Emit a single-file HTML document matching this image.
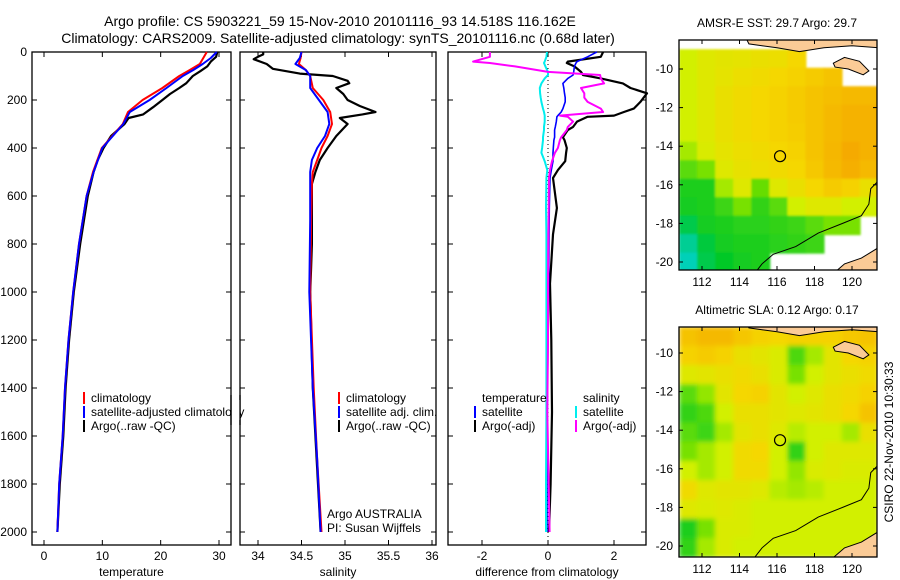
<!DOCTYPE html>
<html><head><meta charset="utf-8"><style>
html,body{margin:0;padding:0;background:#fff;}
svg{display:block;font-family:"Liberation Sans",sans-serif;}
</style></head><body>
<svg id="chart" width="900" height="580" viewBox="0 0 900 580">
<defs>
<clipPath id="clipTop"><rect x="679" y="40" width="198" height="230"/></clipPath>
<clipPath id="clipBot"><rect x="679" y="327" width="198" height="230"/></clipPath>
<filter id="blur" x="-5%" y="-5%" width="110%" height="110%"><feGaussianBlur stdDeviation="2.5"/></filter>
<filter id="blur2" x="-5%" y="-5%" width="110%" height="110%"><feGaussianBlur stdDeviation="1"/></filter>
</defs>
<text x="340" y="26" font-size="14" text-anchor="middle">Argo profile: CS 5903221_59 15-Nov-2010 20101116_93 14.518S 116.162E</text>
<text x="338" y="43" font-size="14" text-anchor="middle">Climatology: CARS2009. Satellite-adjusted climatology: synTS_20101116.nc (0.68d later)</text>
<g id="g"></g>
</svg>
<script>
// ---------------- data ----------------
const tDepth = [0,25,50,75,100,150,200,250,300,400,500,600,800,1000,1200,1400,1600,1800,2000];
const tClim  = [27.9,27.3,26.7,25.0,23.2,20.3,16.9,14.4,13.5,9.9,8.4,7.3,6.0,5.0,4.2,3.6,3.2,2.6,2.3];
const tSat   = [29.6,28.6,27.2,25.6,23.8,21.0,18.1,14.7,13.6,10.0,8.5,7.3,6.0,5.0,4.2,3.6,3.2,2.6,2.3];
const tArgoDepth = [0,20,40,60,80,100,130,150,175,200,230,260,275,300,350,400,450,500,600,800,1000,1200,1400,1600,1800,2000];
const tArgo = [29.7,29.5,28.6,28.0,26.8,25.5,24.4,23.2,21.6,20.3,18.7,17.0,14.5,13.8,11.5,10.2,9.2,8.5,7.5,6.2,5.1,4.3,3.7,3.3,2.7,2.3];

const sDepth = [0,25,50,75,100,150,200,250,300,350,400,450,500,550,700,1000,1400,1700,2000];
const sClim  = [34.5,34.49,34.47,34.55,34.6,34.63,34.75,34.83,34.85,34.8,34.73,34.68,34.63,34.62,34.61,34.6,34.64,34.68,34.73];
const sSat   = [34.5,34.48,34.43,34.55,34.6,34.6,34.7,34.8,34.82,34.77,34.68,34.62,34.6,34.6,34.6,34.59,34.63,34.68,34.72];
const sArgoDepth = [0,10,20,30,50,70,90,100,120,130,150,175,200,225,250,260,275,300,350,400,450,500,550,600,800,900,1000,1400,2000];
const sArgo = [34.06,34.06,34.0,33.95,34.1,34.17,34.48,34.86,35.03,35.05,34.9,34.98,35.03,35.17,35.35,35.2,34.94,35.03,34.9,34.8,34.71,34.66,34.62,34.62,34.62,34.61,34.6,34.63,34.72];

const dDepth = [0,20,40,46,60,83,96,110,131,150,172,190,208,236,250,265,270,290,312,325,355,367,400,420,455,492,525,650,760,965,1200,1500,1800,2000];
const dTempSat  = [1.48,1.2,0.88,0.85,0.8,0.78,0.76,0.6,0.45,0.48,0.5,0.52,0.52,0.45,0.4,0.3,0.27,0.25,0.22,0.2,0.2,0.18,0.16,0.15,0.15,0.1,0.06,0.04,0.03,0.02,0.0,-0.02,-0.03,-0.03];
const dTempArgo = [1.67,1.6,0.6,0.57,0.8,1.0,1.06,1.6,2.27,2.5,3.0,2.9,2.8,2.6,2.3,2.0,1.2,0.88,0.76,0.6,0.45,0.5,0.57,0.55,0.52,0.3,0.15,0.27,0.15,0.06,0.1,0.12,0.08,0.03];
const dSalSat   = [-0.03,-0.05,-0.1,-0.12,-0.08,0.0,0.0,-0.1,-0.2,-0.25,-0.24,-0.22,-0.2,-0.15,-0.12,-0.1,-0.1,-0.1,-0.12,-0.12,-0.15,-0.15,-0.18,-0.2,-0.1,-0.02,-0.05,-0.06,-0.05,-0.05,-0.05,-0.05,-0.06,-0.06];
const dSalArgo  = [-1.76,-1.76,-2.27,-1.76,-1.0,0.0,1.58,1.6,1.7,1.0,1.1,1.1,1.2,1.6,1.67,0.36,0.6,0.76,0.6,0.57,0.4,0.36,0.3,0.21,0.12,0.06,0.03,0.02,0.01,0.0,0.0,-0.02,0.02,0.05];

const tempTicks = [0,10,20,30];
const salTicks = [34,34.5,35,35.5,36];
const diffTicks = [-2,0,2];
const depthTicks = [0,200,400,600,800,1000,1200,1400,1600,1800,2000];
const latTicks = [-10,-12,-14,-16,-18,-20];
const lonTicks = [112,114,116,118,120];

const sstGrid = [
 [0.55,0.6,0.62,0.63,0.65,0.66,0.7,null,null,null,null],
 [0.55,0.6,0.63,0.66,0.68,0.7,0.72,0.75,0.78,null,null],
 [0.55,0.6,0.65,0.68,0.7,0.72,0.75,0.78,0.8,0.82,0.82],
 [0.55,0.6,0.65,0.68,0.7,0.72,0.75,0.78,0.82,0.85,0.85],
 [0.55,0.6,0.65,0.68,0.7,0.72,0.74,0.78,0.82,0.85,0.85],
 [0.5,0.58,0.63,0.66,0.68,0.7,0.72,0.78,0.83,0.88,0.85],
 [0.4,0.45,0.6,0.64,0.66,0.68,0.7,0.76,0.82,0.86,0.82],
 [0.3,0.3,0.5,0.6,0.42,0.6,0.65,0.7,0.75,0.72,0.65],
 [0.28,0.3,0.35,0.45,0.33,0.4,0.55,0.6,0.6,0.55,0.55],
 [0.2,0.28,0.3,0.32,0.32,0.33,0.35,0.4,0.45,0.45,null],
 [0.1,0.22,0.28,0.3,0.3,0.32,0.33,0.35,null,null,null],
 [0.05,0.2,0.25,0.28,0.3,null,null,null,null,null,null]];
const slaGrid = [
 [0.78,0.82,0.82,0.77,0.72,0.7,0.72,0.72,0.72,0.76,0.78],
 [0.72,0.75,0.72,0.65,0.62,0.58,0.38,0.5,0.62,0.7,0.72],
 [0.6,0.62,0.65,0.68,0.65,0.58,0.45,0.55,0.62,0.65,0.68],
 [0.4,0.48,0.62,0.7,0.72,0.62,0.55,0.6,0.65,0.68,0.72],
 [0.33,0.38,0.55,0.65,0.65,0.62,0.6,0.62,0.65,0.7,0.78],
 [0.4,0.35,0.5,0.62,0.65,0.6,0.52,0.55,0.55,0.5,0.65],
 [0.45,0.5,0.55,0.68,0.7,0.55,0.33,0.55,0.6,0.6,0.6],
 [0.55,0.5,0.55,0.68,0.68,0.55,0.48,0.58,0.6,0.58,0.58],
 [0.68,0.6,0.62,0.62,0.6,0.52,0.5,0.52,0.55,0.55,0.55],
 [0.6,0.58,0.6,0.58,0.55,0.55,0.55,0.55,0.55,0.55,0.55],
 [0.3,0.45,0.58,0.58,0.55,0.55,0.55,0.55,0.55,0.55,0.55],
 [0.33,0.5,0.58,0.55,0.55,0.55,0.55,0.55,0.55,0.55,0.55]];
const floatLon = 116.162, floatLat = -14.518;

// ---------------- helpers ----------------
const NS = "http://www.w3.org/2000/svg";
const G = document.getElementById('g');
function mk(tag, attrs, parent){ const e=document.createElementNS(NS,tag); for(const k in attrs) e.setAttribute(k,attrs[k]); (parent||G).appendChild(e); return e; }
function lin(d0,d1,r0,r1){ return v=> r0+(v-d0)*(r1-r0)/(d1-d0); }
const yDepth = lin(0,2000,52,532);
const panels = [
 {x0:32,x1:231,sx:lin(0,30,44,219),ticks:tempTicks,label:'temperature',name:'temperature'},
 {x0:240,x1:436,sx:lin(34,36,258,432),ticks:salTicks,label:'salinity',name:'salinity'},
 {x0:448,x1:646,sx:lin(0,2,548,614),ticks:diffTicks,label:'difference from climatology',name:'difference'}];
const TOP=52, BOT=545;
panels.forEach((p,i)=>{
  const r = mk('rect',{x:p.x0,y:TOP,width:p.x1-p.x0,height:BOT-TOP,fill:'none',stroke:'#000','stroke-width':1.3});
  
  
  p.ticks.forEach(t=>{
    const x=p.sx(t);
    mk('line',{x1:x,x2:x,y1:BOT,y2:BOT-5,stroke:'#000'});
    mk('line',{x1:x,x2:x,y1:TOP,y2:TOP+5,stroke:'#000'});
    const tx = mk('text',{x:x,y:560,'font-size':12,'text-anchor':'middle'}); tx.textContent=t;
    
    
  });
  depthTicks.forEach(d=>{
    const y=yDepth(d);
    mk('line',{x1:p.x0,x2:p.x0+5,y1:y,y2:y,stroke:'#000'});
    mk('line',{x1:p.x1,x2:p.x1-5,y1:y,y2:y,stroke:'#000'});
    if(i===0){ const tx=mk('text',{x:27,y:y+4,'font-size':12,'text-anchor':'end'}); tx.textContent=d;
      
       }
  });
  const lb = mk('text',{x:(i===2?547:(p.x0+p.x1)/2),y:576,'font-size':12,'text-anchor':'middle'}); lb.textContent=p.label;
  
  
});
function line(p, depths, vals, color, name, w){
  const d = depths.map((z,k)=>(k?'L':'M')+p.sx(vals[k]).toFixed(1)+','+yDepth(z).toFixed(1)).join('');
  const e = mk('path',{d:d,fill:'none',stroke:color,'stroke-width':w||2,'stroke-linejoin':'round'});
  
  
}
// zero line
mk('line',{x1:548,x2:548,y1:TOP,y2:BOT,stroke:'#000','stroke-dasharray':'1,3'});
line(panels[0],tArgoDepth,tArgo,'#000','temp-argo-line',2.2);
line(panels[0],tDepth,tClim,'#f00','temp-climatology-line');
line(panels[0],tDepth,tSat,'#00f','temp-satellite-line');
line(panels[1],sArgoDepth,sArgo,'#000','sal-argo-line',2.2);
line(panels[1],sDepth,sClim,'#f00','sal-climatology-line');
line(panels[1],sDepth,sSat,'#00f','sal-satellite-line');
line(panels[2],dDepth,dTempArgo,'#000','diff-temp-argo-line',2.2);
line(panels[2],dDepth,dTempSat,'#00f','diff-temp-satellite-line',1.6);
line(panels[2],dDepth,dSalSat,'#0ee','diff-sal-satellite-line');
line(panels[2],dDepth,dSalArgo,'#f0f','diff-sal-argo-line');

function legend(x,y,color,txt,name){
  if(color){ const b=mk('line',{x1:x,x2:x,y1:y-10,y2:y+2,stroke:color,'stroke-width':2});
      }
  const t=mk('text',{x:x+7,y:y,'font-size':12}); t.textContent=txt;
   
}
legend(84,402,'#f00','climatology','legend-temp-climatology');
legend(84,416,'#00f','satellite-adjusted climatology','legend-temp-satellite');
legend(84,430,'#000','Argo(..raw -QC)','legend-temp-argo');
legend(339,402,'#f00','climatology','legend-sal-climatology');
legend(339,416,'#00f','satellite adj. clim.','legend-sal-satellite');
legend(339,430,'#000','Argo(..raw -QC)','legend-sal-argo');
legend(475,402,null,'temperature','legend-temp-heading');
legend(475,416,'#00f','satellite','legend-diff-temp-satellite');
legend(475,430,'#000','Argo(-adj)','legend-diff-temp-argo');
legend(576,402,null,'salinity','legend-sal-heading');
legend(576,416,'#0ee','satellite','legend-diff-sal-satellite');
legend(576,430,'#f0f','Argo(-adj)','legend-diff-sal-argo');
// cover legend overflow past panel 1 edge
const cover=mk('rect',{x:232,y:400,width:7.5,height:20,fill:'#fff'});
mk('line',{x1:231,x2:231,y1:395,y2:425,stroke:'#000','stroke-width':1.3});
mk('line',{x1:240,x2:240,y1:395,y2:425,stroke:'#000','stroke-width':1.3});
let t1=mk('text',{x:327,y:518,'font-size':12}); t1.textContent='Argo AUSTRALIA';
 
let t2=mk('text',{x:327,y:532,'font-size':12}); t2.textContent='PI: Susan Wijffels';
 

// ---------------- maps ----------------
const stops=[[0,[0,210,220]],[0.25,[0,200,40]],[0.45,[120,225,0]],[0.55,[210,240,0]],[0.7,[245,215,0]],[0.9,[245,165,0]],[1,[240,140,0]]];
function cmap(v){ for(let k=1;k<stops.length;k++){ if(v<=stops[k][0]){ const a=stops[k-1],b=stops[k],f=(v-a[0])/(b[0]-a[0]); return 'rgb('+a[1].map((c,j)=>Math.round(c+(b[1][j]-c)*f)).join(',')+')'; } } return 'rgb(240,140,0)'; }
function drawMap(grid, top, bot, title, name, clip, blur){
  const L=679,R=877;
  const sx=lin(112,120,702,852);
  const sy=lin(-10,-20, top===40?69:353, top===40?262:546);
  const lonL=110.8, lonR=121.4, latT=top===40?-9.0:-8.65, latB=top===40?-20.5:-20.6;
  const nr=grid.length,nc=grid[0].length;
  const dl=(lonR-lonL)/nc, dt=(latB-latT)/nr;
  const cg=mk('g',{'clip-path':'url(#'+clip+')'});
  const hg=mk('g',{filter:'url(#'+blur+')'},cg);
  
  
  grid.forEach((row,r)=>row.forEach((v,c)=>{
    if(v===null) return;
    const x=sx(lonL+c*dl), y=sy(latT+r*dt);
    const cell=mk('rect',{x:x-0.5,y:y-0.5,width:sx(lonL+(c+1)*dl)-x+1,height:sy(latT+(r+1)*dt)-y+1,fill:cmap(v)},hg);
    
    
  }));
  const P=(pts)=>pts.map((q,k)=>(k?'L':'M')+sx(q[0]).toFixed(1)+','+sy(q[1]).toFixed(1)).join('')+'Z';
  // land: island near Sumba and Java/Nusa Tenggara strip, Australia
  const land=[
    [[119.0,-9.7],[119.6,-9.4],[120.4,-9.6],[120.9,-10.1],[120.6,-10.3],[119.8,-10.0],[119.1,-9.9]],
    [[114.4,-8.5],[121.5,-8.5],[121.5,-8.9],[120,-8.8],[118.5,-8.9],[117.2,-9.1],[116.0,-8.9],[115.2,-8.8],[114.5,-8.7]],
    [[121.5,-19.2],[120.5,-19.8],[119.6,-20.1],[119.0,-20.6],[121.5,-20.6]]];
  land.forEach(pl=>{ const e=mk('path',{d:P(pl),fill:'#fbcb96',stroke:'#000','stroke-width':1},cg);
      });
  const coast=[[114.8,-20.6],[115.2,-20.1],[115.8,-19.6],[117.0,-19.2],[118.2,-18.5],[119.5,-18.0],[120.5,-17.6],[120.9,-17.0],[121.0,-16.2],[121.4,-15.8]];
  const cl=mk('path',{d:coast.map((q,k)=>(k?'L':'M')+sx(q[0])+','+sy(q[1])).join(''),fill:'none',stroke:'#000','stroke-width':1},cg);
   
  const fr=mk('rect',{x:L,y:top,width:R-L,height:bot-top,fill:'none',stroke:'#000','stroke-width':1.3});
   
  latTicks.forEach(t=>{ const y=sy(t);
    mk('line',{x1:L,x2:L+4,y1:y,y2:y,stroke:'#000'}); mk('line',{x1:R,x2:R-4,y1:y,y2:y,stroke:'#000'});
    const tx=mk('text',{x:673,y:y+4,'font-size':12,'text-anchor':'end'}); tx.textContent=t;
      });
  lonTicks.forEach(t=>{ const x=sx(t);
    mk('line',{x1:x,x2:x,y1:bot,y2:bot-4,stroke:'#000'}); mk('line',{x1:x,x2:x,y1:top,y2:top+4,stroke:'#000'});
    const tx=mk('text',{x:x,y:bot+16,'font-size':12,'text-anchor':'middle'}); tx.textContent=t;
      });
  const c=mk('circle',{cx:sx(floatLon),cy:sy(floatLat),r:5.5,fill:'none',stroke:'#000','stroke-width':1.2});
   
  const tt=mk('text',{x:777,y:top-13,'font-size':12,'text-anchor':'middle'}); tt.textContent=title;
   
}
drawMap(sstGrid,40,270,'AMSR-E SST: 29.7 Argo: 29.7','sst-map','clipTop','blur2');
drawMap(slaGrid,327,557,'Altimetric SLA: 0.12 Argo: 0.17','sla-map','clipBot','blur');
const cs=mk('text',{x:0,y:0,'font-size':12,'text-anchor':'middle',transform:'translate(893,442) rotate(-90)'});
cs.textContent='CSIRO 22-Nov-2010 10:30:33';
 
</script>
</body></html>
